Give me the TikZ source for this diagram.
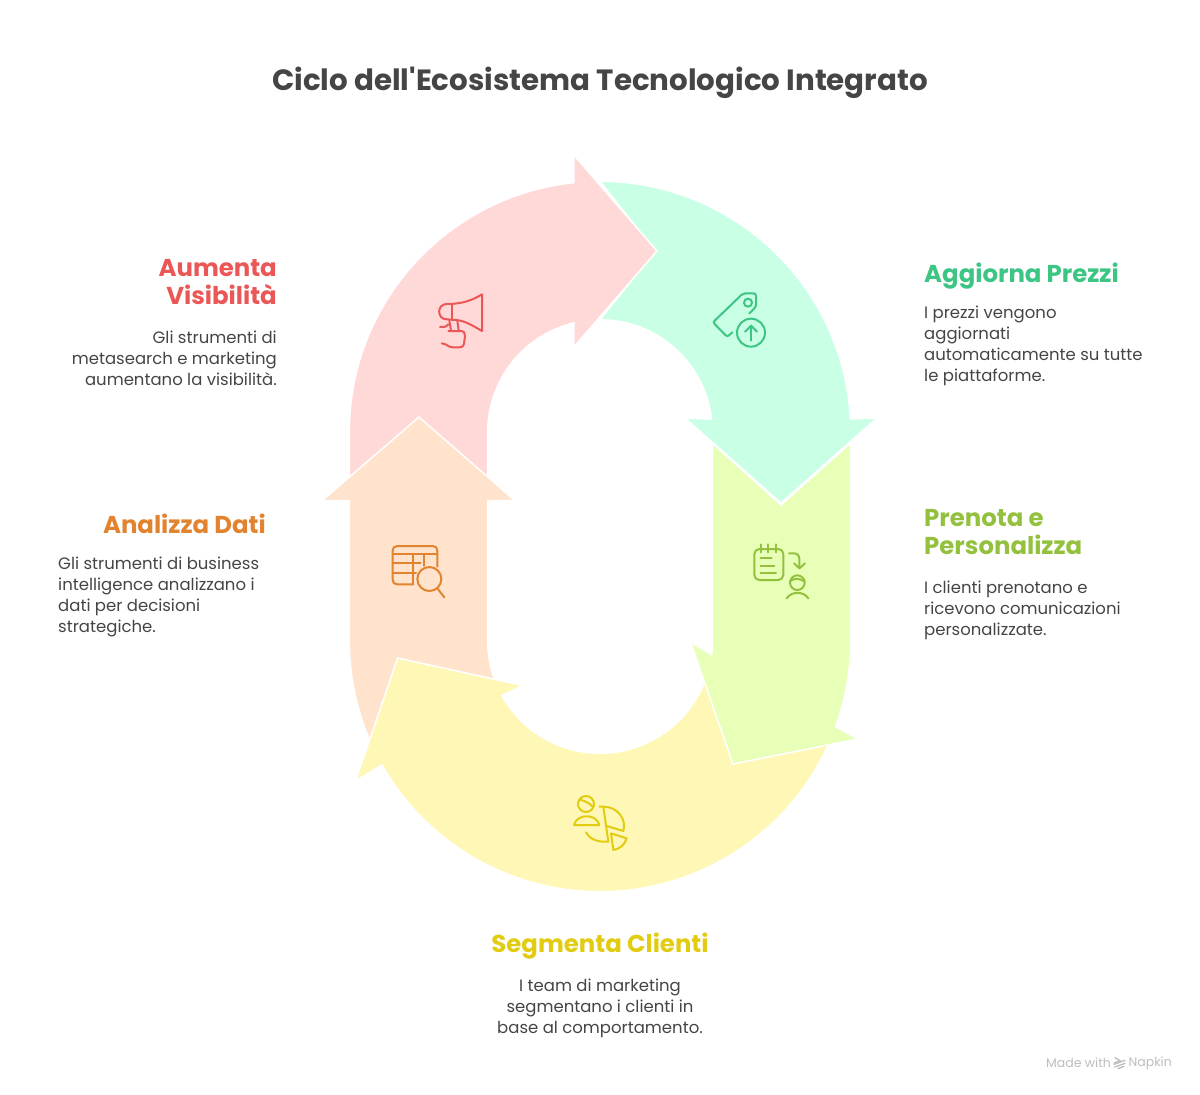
\documentclass[tikz,border=0pt]{standalone}
\usepackage{fontspec}
\setmainfont{Poppins}[Ligatures=TeXOff]
\usetikzlibrary{positioning}

\definecolor{pinkfill}{HTML}{FFD9D8}
\definecolor{mintfill}{HTML}{C8FFE5}
\definecolor{limefill}{HTML}{E8FFB8}
\definecolor{yellowfill}{HTML}{FFF7B5}
\definecolor{peachfill}{HTML}{FFE3CC}
\definecolor{reddark}{HTML}{EB5757}
\definecolor{mintdark}{HTML}{3CC583}
\definecolor{limedark}{HTML}{93C13E}
\definecolor{yellowdark}{HTML}{E2CC12}
\definecolor{peachdark}{HTML}{E28330}
\definecolor{inkdark}{HTML}{454545}
\definecolor{marklight}{HTML}{BDBDBD}

\tikzset{
    band/.style={draw=white, line width=1.5pt, line join=miter},
    icon/.style={line width=2pt, line cap=round, line join=round, fill=none},
    title/.style={font=\fontsize{29.3}{34}\selectfont\bfseries, text=inkdark, inner sep=0pt},
    heading/.style={font=\fontsize{24.4}{28}\selectfont\bfseries, inner sep=0pt},
    body/.style={font=\fontsize{16.5}{21}\selectfont, text=inkdark, inner sep=0pt},
    madewith/.style={font=\fontsize{12.5}{15}\selectfont, text=marklight, inner sep=0pt}
}

\begin{document}
\begin{tikzpicture}[x=1pt, y=1pt, yscale=-1]
    \useasboundingbox (0,0) rectangle (1200,1095);

    \fill[mintfill, band] (600,181.3) arc[start angle=270, end angle=357, radius=250.7]
        -- (877,418) -- (781,503) -- (685,418) -- (711.6,419.1)
        arc[start angle=353.4, end angle=270, radius=112.3] -- (655,251) -- cycle;
    \fill[pinkfill, band] (349.3,480) -- (349.3,432) arc[start angle=180, end angle=264, radius=250.7]
        -- (573.8,155) -- (657,251) -- (573.8,347) -- (574,322.8)
        arc[start angle=256.6, end angle=180, radius=112.3] -- (487.7,480) -- cycle;
    \fill[peachfill, band] (349.3,500.7) -- (322,500.7) -- (419,417) -- (515,500.7) -- (487.7,500.7) -- (487.7,641)
        arc[start angle=180, end angle=157, radius=112.3]
        -- (372.8,747) arc[start angle=155, end angle=180, radius=250.7] -- cycle;
    \fill[yellowfill, band] (832.4,734.9) arc[start angle=22, end angle=150.4, radius=250.7]
        -- (355.5,781) -- (397.6,658) -- (523,685.5) -- (501.8,695.4)
        arc[start angle=151, end angle=20, radius=112.3] -- cycle;
    \fill[limefill, band] (712.3,443) -- (781,505) -- (850.7,443) -- (850.7,641)
        arc[start angle=0, end angle=20, radius=250.7] -- (858,739) -- (733,764) -- (690.5,642)
        -- (711.5,654.7) arc[start angle=7, end angle=0, radius=112.3] -- cycle;

    \begin{scope}[shift={(420,280)}, scale=1/3, draw=reddark]
        \draw[icon] (186,43) .. controls (155,62) and (125,72) .. (80,72)
            .. controls (50,72) and (50,118) .. (80,118) -- (108,120)
            .. controls (135,122) and (160,138) .. (186,153) -- cycle;
        \draw[icon] (97,72) -- (97,120);
        \draw[icon] (88,122) -- (93,151);
        \draw[icon] (112,122) -- (116,151);
        \draw[icon] (85,153) -- (122,153) .. controls (132,153) and (136,160) .. (135,168)
            -- (132,192) .. controls (131,199) and (126,202) .. (118,202) -- (98,202)
            .. controls (85,202) and (80,191) .. (65,190);
        \draw[icon] (60,141) .. controls (70,142) and (78,141) .. (85,133);
    \end{scope}

    \begin{scope}[shift={(700,280)}, scale=1/3, draw=mintdark]
        \draw[icon] (148,100) -- (162,86) .. controls (166,82) and (168,78) .. (168,73) -- (168,48)
            .. controls (168,43) and (165,40) .. (160,40) -- (135,40)
            .. controls (130,40) and (127,42) .. (124,45) -- (44,122)
            .. controls (40,126) and (40,128) .. (44,132) -- (76,165)
            .. controls (80,169) and (83,169) .. (87,166) -- (97,157);
        \draw[icon] (144,68) circle[radius=12];
        \draw[icon] (153,158) circle[radius=42];
        \draw[icon] (153,182) -- (153,137);
        \draw[icon] (135,155) -- (153,137) -- (171,155);
    \end{scope}

    \begin{scope}[shift={(740,535)}, scale=1/3, draw=limedark]
        \draw[icon, rounded corners=5pt] (43,42) rectangle (130,135);
        \draw[icon] (64,28) -- (64,52);
        \draw[icon] (85,28) -- (85,52);
        \draw[icon] (108,28) -- (108,52);
        \draw[icon] (62,70) -- (95,70);
        \draw[icon] (62,92) -- (103,92);
        \draw[icon] (62,113) -- (108,113);
        \draw[icon] (147,55) -- (162,55) .. controls (172,55) and (178,62) .. (178,72) -- (178,100);
        \draw[icon] (162,85) -- (178,100) -- (195,85);
        \draw[icon] (172,143) circle[radius=22];
        \draw[icon] (151,138) .. controls (165,128) and (180,130) .. (194,140);
        \draw[icon] (140,190) .. controls (155,168) and (190,168) .. (205,190);
    \end{scope}

    \begin{scope}[shift={(560,785)}, scale=1/3, draw=yellowdark]
        \draw[icon] (78,57) circle[radius=24];
        \draw[icon] (58,44) .. controls (72,46) and (88,54) .. (100,66);
        \draw[icon] (42,120) .. controls (50,85) and (110,85) .. (118,120) -- cycle;
        \draw[icon] (118,65) -- (130,65) .. controls (175,65) and (200,105) .. (190,138)
            -- (137,122);
        \draw[icon] (130,65) -- (145,170) .. controls (112,172) and (88,162) .. (78,142);
        \draw[icon] (153,145) -- (200,160) .. controls (195,178) and (180,192) .. (160,195) -- cycle;
    \end{scope}

    \begin{scope}[shift={(380,535)}, scale=1/3, draw=peachdark]
        \draw[icon] (172,95) -- (172,47) .. controls (172,38) and (167,33) .. (158,33) -- (52,33)
            .. controls (43,33) and (38,38) .. (38,47) -- (38,134)
            .. controls (38,143) and (43,148) .. (52,148) -- (100,148);
        \draw[icon] (38,58) -- (172,58);
        \draw[icon] (38,84) -- (122,84);
        \draw[icon] (38,115) -- (108,115);
        \draw[icon] (98,58) -- (98,148);
        \draw[icon] (132,58) -- (132,92);
        \draw[icon] (148,132) circle[radius=36];
        \draw[icon] (172,160) -- (193,187);
    \end{scope}

    \node[title] (titolo) at (600,83) {Ciclo dell'Ecosistema Tecnologico Integrato};

    \node[heading, text=mintdark, anchor=west] (prezzi) at (924,276) {Aggiorna Prezzi};
    \node[body, anchor=base west, align=left] (prezzitesto) at (924,381)
        {I prezzi vengono\\aggiornati\\automaticamente su tutte\\le piattaforme.};

    \node[heading, text=limedark, anchor=base west, align=left] (prenota) at (924,554)
        {Prenota e\\Personalizza};
    \node[body, anchor=base west, align=left] (prenotatesto) at (924,635)
        {I clienti prenotano e\\ricevono comunicazioni\\personalizzate.};

    \node[heading, text=yellowdark] (segmenta) at (600,946) {Segmenta Clienti};
    \node[body, anchor=base, align=center] (segmentatesto) at (600,1033)
        {I team di marketing\\segmentano i clienti in\\base al comportamento.};

    \node[heading, text=peachdark, anchor=east] (analizza) at (266,524) {Analizza Dati};
    \node[body, anchor=base west, align=left] (analizzatesto) at (58,632)
        {Gli strumenti di business\\intelligence analizzano i\\dati per decisioni\\strategiche.};

    \node[heading, text=reddark, anchor=base east, align=right] (aumenta) at (277,304)
        {Aumenta\\Visibilità};
    \node[body, anchor=base east, align=right] (aumentatesto) at (277,385)
        {Gli strumenti di\\metasearch e marketing\\aumentano la visibilità.};

    \node[madewith, anchor=west] (made) at (1046,1063) {Made with};
    \node[madewith, anchor=east] (napkin) at (1172,1063) {Napkin};
    \begin{scope}[shift={(1030,1045)}, scale=1/3, draw=marklight]
        \draw[line width=1.3pt, line cap=round] (255,38) -- (270,47) -- (252,54);
        \draw[line width=1.3pt, line cap=round] (285,46) -- (252,58);
        \draw[line width=1.3pt, line cap=round] (285,55) -- (254,66);
        \draw[line width=1.3pt, line cap=round] (282,64) -- (264,71);
    \end{scope}
\end{tikzpicture}
\end{document}
